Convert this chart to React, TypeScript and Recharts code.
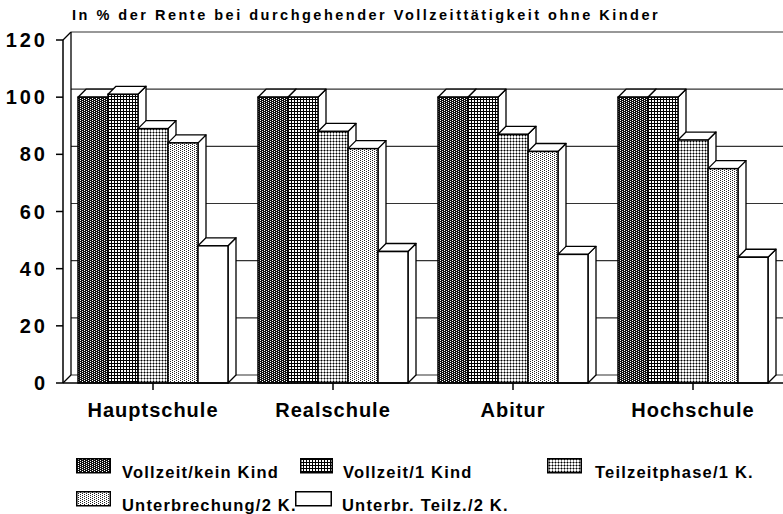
import { BarChart, Bar, XAxis, YAxis, CartesianGrid, ReferenceArea } from "recharts";

// ─── Data ─────────────────────────────────────────────────────────────────────

const categories = ["Hauptschule", "Realschule", "Abitur", "Hochschule"];
const vollzeitKeinKind = [100, 100, 100, 100];
const vollzeit1Kind = [101, 100, 100, 100];
const teilzeitphase1K = [89, 88, 87, 85];
const unterbrechung2K = [84, 82, 81, 75];
const unterbrTeilz2K = [48, 46, 45, 44];
const yTicks = [0, 20, 40, 60, 80, 100, 120];

const series = [
  { key: "kein", name: "Vollzeit/kein Kind", values: vollzeitKeinKind, fill: "url(#pKein)" },
  { key: "eins", name: "Vollzeit/1 Kind", values: vollzeit1Kind, fill: "url(#pEins)" },
  { key: "teil", name: "Teilzeitphase/1 K.", values: teilzeitphase1K, fill: "url(#pTeil)" },
  { key: "unter", name: "Unterbrechung/2 K.", values: unterbrechung2K, fill: "url(#pUnter)" },
  { key: "ut", name: "Unterbr. Teilz./2 K.", values: unterbrTeilz2K, fill: "#fff" },
];

const data = categories.map((name, i) => {
  const row: Record<string, string | number> = { name };
  series.forEach((s) => (row[s.key] = s.values[i]));
  return row;
});

const FONT = '"Liberation Sans", Arial, Helvetica, sans-serif';
const D = 8; // depth of the 3d effect

// ─── 3d bar ───────────────────────────────────────────────────────────────────

function Bar3D(props: any) {
  const { x, y, width: w, height: h, fill } = props;
  if (h == null || w == null) return null;
  const top = `${x},${y} ${x + D},${y - D} ${x + w + D},${y - D} ${x + w},${y}`;
  const side = `${x + w},${y} ${x + w + D},${y - D} ${x + w + D},${y + h - D} ${x + w},${y + h}`;
  return (
    <g>
      <polygon points={side} fill="#fff" stroke="#000" strokeWidth={1.3} strokeLinejoin="round" />
      <polygon points={top} fill="#fff" stroke="#000" strokeWidth={1.3} strokeLinejoin="round" />
      <rect x={x} y={y} width={w} height={h} fill={fill} stroke="#000" strokeWidth={1.5} />
    </g>
  );
}

function BackWall(p: any) {
  const { x, y, height } = p;
  return (
    <g stroke="#000" strokeWidth={1.3} fill="none">
      <line x1={x + D} y1={y - D} x2={x + D} y2={y + height - D} />
      <line x1={x} y1={y} x2={x + D} y2={y - D} />
      <line x1={x} y1={y + height} x2={x + D} y2={y + height - D} />
    </g>
  );
}

function Patterns() {
  return (
    <defs>
      <pattern id="pKein" width="4" height="4" patternUnits="userSpaceOnUse">
        <rect width="4" height="4" fill="#111" />
        <rect x="0" y="0" width="1" height="1" fill="#fff" />
        <rect x="2" y="1" width="1" height="1" fill="#fff" />
        <rect x="0" y="2" width="1" height="1" fill="#fff" />
        <rect x="2" y="3" width="1" height="1" fill="#fff" />
      </pattern>
      <pattern id="pEins" width="3" height="3" patternUnits="userSpaceOnUse">
        <rect width="3" height="3" fill="#fff" />
        <rect width="3" height="1" fill="#000" />
        <rect width="1" height="3" fill="#000" />
      </pattern>
      <pattern id="pTeil" width="3" height="3" patternUnits="userSpaceOnUse">
        <rect width="3" height="3" fill="#fff" />
        <rect width="3" height="1" fill="#888" />
        <rect width="1" height="3" fill="#888" />
        <rect width="1" height="1" fill="#000" />
      </pattern>
      <pattern id="pUnter" width="4" height="4" patternUnits="userSpaceOnUse">
        <rect width="4" height="4" fill="#fff" />
        <rect x="0" y="0" width="1" height="1" fill="#222" />
        <rect x="2" y="1" width="1" height="1" fill="#222" />
        <rect x="0" y="2" width="1" height="1" fill="#222" />
        <rect x="2" y="3" width="1" height="1" fill="#222" />
      </pattern>
    </defs>
  );
}

// ─── Legend ───────────────────────────────────────────────────────────────────

// sx/sw: swatch left and width, tx: text left, y: text baseline
const legendPos = [
  { sx: 76, sw: 35, tx: 122, y: 478 },
  { sx: 300, sw: 33, tx: 343, y: 478 },
  { sx: 547, sw: 35, tx: 595, y: 478 },
  { sx: 76, sw: 35, tx: 122, y: 511 },
  { sx: 295, sw: 37, tx: 342, y: 511 },
];

function ChartLegend() {
  return (
    <svg width={783} height={514} style={{ position: "absolute", left: 0, top: 0, pointerEvents: "none" }}>
      {series.map((s, i) => {
        const p = legendPos[i];
        return (
          <g key={s.key}>
            <rect
              x={p.sx + 0.75}
              y={p.y - 20 + 0.75}
              width={p.sw - 1.5}
              height={14}
              fill={s.fill}
              stroke="#000"
              strokeWidth={1.5}
            />
            <text
              x={p.tx}
              y={p.y}
              fontSize={16.5}
              fontWeight={700}
              fontFamily={FONT}
              letterSpacing={1.2}
              fill="#000"
            >
              {s.name}
            </text>
          </g>
        );
      })}
    </svg>
  );
}

// ─── Chart ────────────────────────────────────────────────────────────────────

export default function App() {
  return (
    <div style={{ position: "relative", width: 783, height: 514, background: "#fff", fontFamily: FONT, color: "#000", overflow: "hidden" }}>
      <style>{"body{margin:0}"}</style>
      <BarChart
        width={783}
        height={440}
        data={data}
        margin={{ top: 40, right: 0, bottom: 7, left: 0 }}
        barCategoryGap={15}
        barGap={0}
      >
        <Patterns />
        <text x={72} y={20} fontSize={14.5} fontWeight={700} fontFamily={FONT} letterSpacing={2.5} fill="#000">
          In % der Rente bei durchgehender Vollzeittätigkeit ohne Kinder
        </text>
        <CartesianGrid
          vertical={false}
          horizontal={(p: any) => (
            <line
              key={`g-${p.index}`}
              x1={p.x1 + D}
              y1={p.y1 - D}
              x2={p.x2 + D + 2}
              y2={p.y2 - D}
              stroke="#333"
              strokeWidth={1.2}
            />
          )}
        />
        <ReferenceArea y1={0} y2={120} ifOverflow="visible" fill="none" stroke="none" shape={<BackWall />} />
        <XAxis
          dataKey="name"
          interval={0}
          height={50}
          tickSize={7}
          tickMargin={13}
          axisLine={{ stroke: "#000", strokeWidth: 1.5 }}
          tickLine={{ stroke: "#000", strokeWidth: 1.5 }}
          tick={{ fill: "#000", fontSize: 20, fontWeight: 700, fontFamily: FONT, letterSpacing: 1 }}
        />
        <YAxis
          domain={[0, 120]}
          ticks={yTicks}
          interval={0}
          width={63}
          tickSize={7}
          tickMargin={8}
          axisLine={{ stroke: "#000", strokeWidth: 1.5 }}
          tickLine={{ stroke: "#000", strokeWidth: 1.5 }}
          tick={{ fill: "#000", fontSize: 20, fontWeight: 700, fontFamily: FONT, letterSpacing: 3 }}
        />
        {series.map((s) => (
          <Bar
            key={s.key}
            dataKey={s.key}
            name={s.name}
            fill={s.fill}
            shape={<Bar3D />}
            isAnimationActive={false}
          />
        ))}
      </BarChart>
      <ChartLegend />
    </div>
  );
}
